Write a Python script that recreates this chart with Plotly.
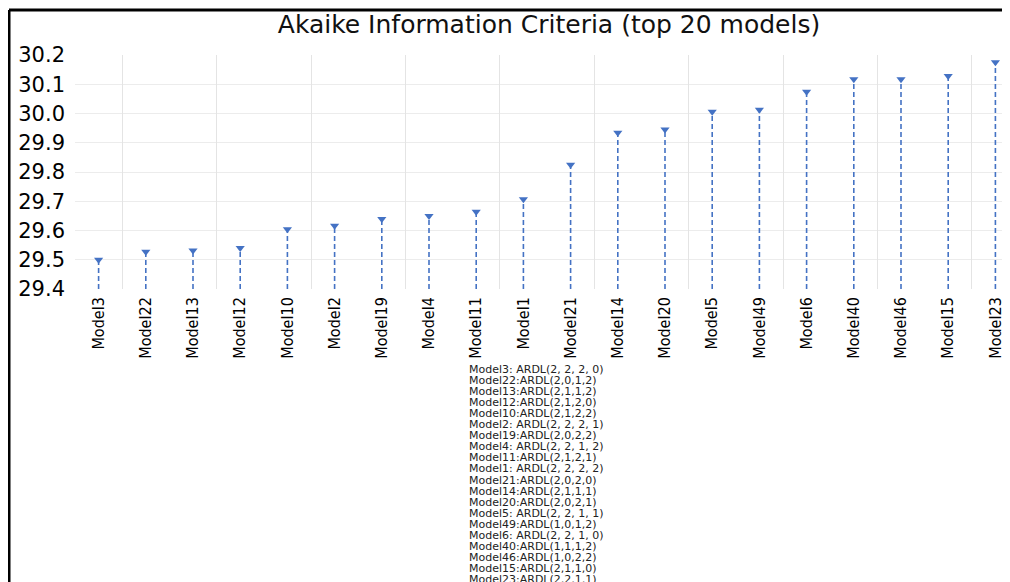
import plotly.graph_objects as go

models = ["Model3", "Model22", "Model13", "Model12", "Model10", "Model2", "Model19",
          "Model4", "Model11", "Model1", "Model21", "Model14", "Model20", "Model5",
          "Model49", "Model6", "Model40", "Model46", "Model15", "Model23"]
aic = [29.500, 29.527, 29.532, 29.540, 29.604, 29.616, 29.639, 29.650, 29.664, 29.707,
       29.825, 29.934, 29.945, 30.006, 30.013, 30.074, 30.117, 30.117, 30.128, 30.175]
specs = ["Model3: ARDL(2, 2, 2, 0)", "Model22:ARDL(2,0,1,2)", "Model13:ARDL(2,1,1,2)",
         "Model12:ARDL(2,1,2,0)", "Model10:ARDL(2,1,2,2)", "Model2: ARDL(2, 2, 2, 1)",
         "Model19:ARDL(2,0,2,2)", "Model4: ARDL(2, 2, 1, 2)", "Model11:ARDL(2,1,2,1)",
         "Model1: ARDL(2, 2, 2, 2)", "Model21:ARDL(2,0,2,0)", "Model14:ARDL(2,1,1,1)",
         "Model20:ARDL(2,0,2,1)", "Model5: ARDL(2, 2, 1, 1)", "Model49:ARDL(1,0,1,2)",
         "Model6: ARDL(2, 2, 1, 0)", "Model40:ARDL(1,1,1,2)", "Model46:ARDL(1,0,2,2)",
         "Model15:ARDL(2,1,1,0)", "Model23:ARDL(2,2,1,1)"]
y_ticks = [29.4, 29.5, 29.6, 29.7, 29.8, 29.9, 30.0, 30.1, 30.2]

W, H = 1010, 582
OFF = 8  # page body margin shifts the figure by 8px
blue = "#4472C4"
y_min, y_max = 29.4, 30.2
xs = list(range(len(models)))

# drop lines from the axis floor up to each value
lx, ly = [], []
for i, v in zip(xs, aic):
    lx += [i, i, None]
    ly += [y_min, v, None]

fig = go.Figure()
fig.add_trace(go.Scatter(x=lx, y=ly, mode="lines",
                         line=dict(color=blue, width=1.6, dash="5px,3px"),
                         hoverinfo="skip", showlegend=False))
fig.add_trace(go.Scatter(x=xs, y=aic, mode="markers",
                         marker=dict(symbol="triangle-down", size=8, color=blue),
                         showlegend=False))
# invisible trace on a second x-axis for the every-other-category grid
fig.add_trace(go.Scatter(x=[xs[0]], y=[aic[0]], xaxis="x2", mode="markers",
                         marker=dict(opacity=0), hoverinfo="skip", showlegend=False))

l, r, t, b = 75 - OFF, 0, 55 - OFF, H - (289 - OFF)
pw = W - l - r
ph = H - t - b
x_range = [-0.5, -0.5 + pw / 47.2]

fig.update_layout(
    width=W, height=H,
    margin=dict(l=l, r=r, t=t, b=b),
    paper_bgcolor="white", plot_bgcolor="white",
    title=dict(text="Akaike Information Criteria (top 20 models)",
               x=(549 - OFF) / W, xanchor="center", y=1 - (24 - OFF) / H, yanchor="middle",
               font=dict(family="DejaVu Sans", size=25, color="#111")),
    xaxis=dict(range=x_range, tickmode="array", tickvals=xs, ticktext=models,
               tickangle=-90, showgrid=False, showline=False, zeroline=False,
               ticks="", ticklabelstandoff=4,
               tickfont=dict(family="DejaVu Sans Condensed, Liberation Sans Narrow, Roboto",
                             size=16, color="black")),
    xaxis2=dict(overlaying="x", matches="x", range=x_range, tick0=0.5, dtick=2,
                showgrid=True, gridcolor="#e4e4e4", gridwidth=1.3,
                showticklabels=False, ticks="", zeroline=False),
    yaxis=dict(range=[y_min, y_max], tickmode="array", tickvals=y_ticks,
               tickformat=".1f", showgrid=True, gridcolor="#ececec", gridwidth=1.3,
               zeroline=False, showline=False, ticks="", ticklabelstandoff=9,
               tickfont=dict(family="DejaVu Sans", size=21, color="black")),
)

# model specification list below the chart
for i, s in enumerate(specs):
    fig.add_annotation(text=s, xref="paper", yref="paper",
                       x=(467 - OFF - l) / pw, xanchor="left",
                       y=(H - b - (369 - OFF + 11.1 * i)) / ph, yanchor="middle",
                       showarrow=False,
                       font=dict(family="DejaVu Sans", size=11, color="#222"))

# black frame on the left and top edges
fx = (9 - OFF - l) / pw
fy = (H - b - (10 - OFF)) / ph
fig.add_shape(type="line", xref="paper", yref="paper",
              x0=fx, x1=fx, y0=(H - b - H) / ph, y1=fy,
              line=dict(color="black", width=3))
fig.add_shape(type="line", xref="paper", yref="paper",
              x0=fx, x1=1.0, y0=fy, y1=fy,
              line=dict(color="black", width=3))

fig.write_html("out.html")
